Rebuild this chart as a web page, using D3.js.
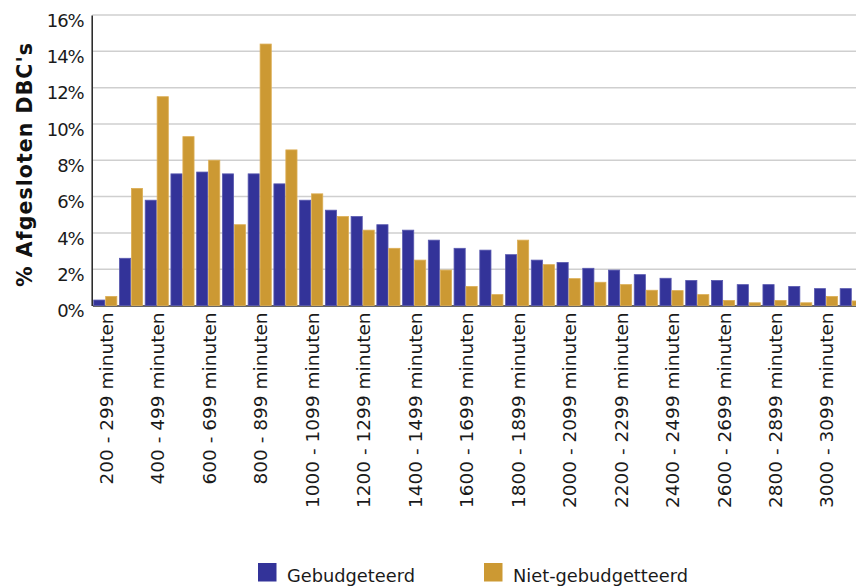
<!DOCTYPE html>
<html>
<head>
<meta charset="utf-8">
<script src="https://cdn.jsdelivr.net/npm/d3@7"></script>
<style>
  html, body { margin: 0; padding: 0; background: #fff; overflow: hidden; }
  svg { display: block; }
</style>
</head>
<body>
<svg id="chart" width="856" height="587"></svg>
<script>
const categories = [
  "200 - 299 minuten", "300 - 399 minuten", "400 - 499 minuten", "500 - 599 minuten",
  "600 - 699 minuten", "700 - 799 minuten", "800 - 899 minuten", "900 - 999 minuten",
  "1000 - 1099 minuten", "1100 - 1199 minuten", "1200 - 1299 minuten", "1300 - 1399 minuten",
  "1400 - 1499 minuten", "1500 - 1599 minuten", "1600 - 1699 minuten", "1700 - 1799 minuten",
  "1800 - 1899 minuten", "1900 - 1999 minuten", "2000 - 2099 minuten", "2100 - 2199 minuten",
  "2200 - 2299 minuten", "2300 - 2399 minuten", "2400 - 2499 minuten", "2500 - 2599 minuten",
  "2600 - 2699 minuten", "2700 - 2799 minuten", "2800 - 2899 minuten", "2900 - 2999 minuten",
  "3000 - 3099 minuten", "3100 - 3199 minuten"
];
const gebudgeteerd = [
  0.3, 2.6, 5.8, 7.25, 7.35, 7.25, 7.25, 6.7, 5.8, 5.25,
  4.9, 4.45, 4.15, 3.6, 3.15, 3.05, 2.8, 2.5, 2.37, 2.05,
  1.95, 1.7, 1.5, 1.38, 1.38, 1.15, 1.15, 1.05, 0.93, 0.93
];
const nietGebudgetteerd = [
  0.5, 6.45, 11.5, 9.3, 8.0, 4.45, 14.4, 8.57, 6.15, 4.9,
  4.15, 3.15, 2.5, 1.95, 1.05, 0.6, 3.6, 2.25, 1.48, 1.28,
  1.15, 0.84, 0.82, 0.6, 0.28, 0.15, 0.28, 0.15, 0.5, 0.25
];
const seriesNames = ["Gebudgeteerd", "Niet-gebudgetteerd"];
const seriesColors = ["#333399", "#CC9933"];
const seriesStrokes = ["#5a5ab0", "#dcae55"];
const yTicks = [0, 2, 4, 6, 8, 10, 12, 14, 16];
const xTickLabels = categories.filter((d, i) => i % 2 === 0);

(function () {
const svg = d3.select("#chart");
const plotLeft = 92.4, plotTop = 15, plotBottom = 305.5;
const step = 25.74;

const x = d3.scaleBand()
  .domain(categories)
  .range([plotLeft, plotLeft + step * categories.length])
  .paddingInner(0.07)
  .paddingOuter(0.035);

const x1 = d3.scaleBand()
  .domain(seriesNames)
  .range([0, x.bandwidth()]);

const y = d3.scaleLinear().domain([0, 16]).range([plotBottom, plotTop]);

// gridlines
svg.append("g")
  .selectAll("line")
  .data(yTicks.filter(d => d > 0))
  .join("line")
  .attr("x1", plotLeft)
  .attr("x2", 856)
  .attr("y1", d => y(d))
  .attr("y2", d => y(d))
  .attr("stroke", "#cfcfcf")
  .attr("stroke-width", 1.5);

// x axis
const xAxis = svg.append("g")
  .attr("transform", `translate(0,${plotBottom})`)
  .call(d3.axisBottom(x).tickValues(xTickLabels).tickSize(0).tickSizeOuter(0));
xAxis.select(".domain").attr("stroke", "#333").attr("stroke-width", 1.5);
xAxis.selectAll("text")
  .attr("transform", "rotate(-90)")
  .attr("x", -7)
  .attr("y", 1)
  .attr("dy", "0.35em")
  .style("text-anchor", "end")
  .style("font-family", "'DejaVu Sans', Verdana, sans-serif")
  .style("font-size", "18.5px")
  .style("fill", "#1a1a1a");

// bars
const rows = categories.map((c, i) => ({ c, vals: [gebudgeteerd[i], nietGebudgetteerd[i]] }));
svg.append("g")
  .selectAll("g")
  .data(rows)
  .join("g")
  .attr("transform", d => `translate(${x(d.c)},0)`)
  .selectAll("rect")
  .data(d => d.vals.map((v, k) => ({ k, v })))
  .join("rect")
  .attr("x", d => x1(seriesNames[d.k]) + 0.4)
  .attr("width", x1.bandwidth() - 0.8)
  .attr("y", d => y(d.v))
  .attr("height", d => y(0) - y(d.v))
  .attr("fill", d => seriesColors[d.k])
  .attr("stroke", d => seriesStrokes[d.k])
  .attr("stroke-width", 0.8);

// y axis
const yAxis = svg.append("g")
  .attr("transform", `translate(${plotLeft - 0.7},0)`)
  .call(d3.axisLeft(y).tickValues(yTicks).tickFormat(d => d + "%").tickSize(0).tickSizeOuter(0).tickPadding(8));
yAxis.select(".domain").attr("stroke", "#222").attr("stroke-width", 1.5);
yAxis.selectAll("text")
  .attr("dy", "0.62em")
  .style("font-family", "'DejaVu Sans', Verdana, sans-serif")
  .style("font-size", "18px")
  .style("letter-spacing", "-1px")
  .style("fill", "#1a1a1a");

// y title
svg.append("text")
  .attr("transform", "translate(31.5,165) rotate(-90)")
  .attr("text-anchor", "middle")
  .attr("textLength", 244)
  .attr("lengthAdjust", "spacing")
  .style("font-family", "'DejaVu Sans', Verdana, sans-serif")
  .style("font-weight", "bold")
  .style("font-size", "20.5px")
  .style("fill", "#111")
  .text("% Afgesloten DBC's");

// legend
const legendX = [258, 484];
const legend = svg.append("g")
  .selectAll("g")
  .data(seriesNames)
  .join("g")
  .attr("transform", (d, i) => `translate(${legendX[i]},563)`);
legend.append("rect")
  .attr("width", 18.5)
  .attr("height", 18.5)
  .attr("fill", (d, i) => seriesColors[i]);
legend.append("text")
  .attr("x", 29)
  .attr("y", 18.5)
  .style("font-family", "'DejaVu Sans', Verdana, sans-serif")
  .style("font-size", "17.8px")
  .style("fill", "#1a1a1a")
  .text(d => d);
})();
</script>
</body>
</html>
